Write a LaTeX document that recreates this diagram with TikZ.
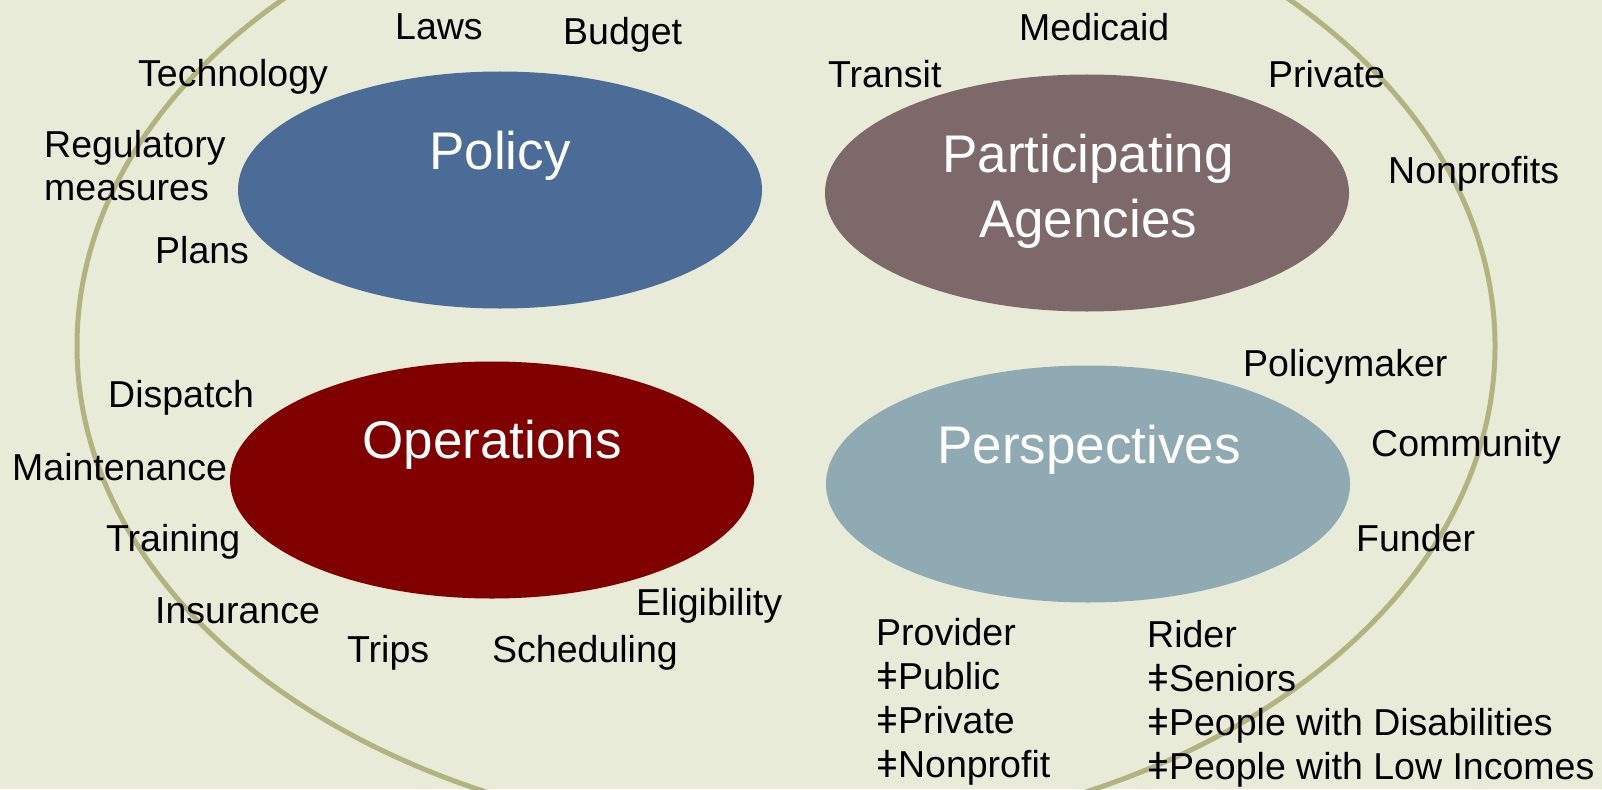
\documentclass[tikz,border=0pt]{standalone}
\usepackage{fontspec}
\setmainfont{Liberation Sans}
\usetikzlibrary{shapes.geometric}
\definecolor{bgc}{RGB}{232,235,216}
\definecolor{ringc}{RGB}{176,180,126}
\definecolor{polc}{RGB}{74,108,151}
\definecolor{agec}{RGB}{125,104,106}
\definecolor{opec}{RGB}{128,0,0}
\definecolor{perc}{RGB}{143,170,178}
\begin{document}
\begin{tikzpicture}[x=1pt,y=-1pt,
  blob/.style={ellipse,draw=none,inner sep=0pt,minimum width=524pt,minimum height=237pt},
  lbl/.style={anchor=base west,inner sep=0pt,font=\fontsize{37.5}{44}\selectfont},
  big/.style={anchor=base,inner sep=0pt,text=white,font=\fontsize{53}{63}\selectfont}]
\useasboundingbox (0,0) rectangle (1602,789);
\fill[bgc] (0,0) rectangle (1602,789);
\draw[ringc,line width=5pt] (786,346) ellipse [x radius=709pt, y radius=492pt];
\node[blob,fill=polc] (pol) at (500,190) {};
\node[blob,fill=agec] (age) at (1087,193) {};
\node[blob,fill=opec] (ope) at (492,480) {};
\node[blob,fill=perc] (per) at (1088,484) {};
\node[big] (tpol) at (500,169) {Policy};
\node[big] (tage1) at (1088,172) {Participating};
\node[big] (tage2) at (1088,237) {Agencies};
\node[big] (tope) at (492,458) {Operations};
\node[big] (tper) at (1089,463) {Perspectives};
% policy
\node[lbl] (laws) at (395,40) {Laws};
\node[lbl] (budget) at (563,45) {Budget};
\node[lbl] (tech) at (138,87) {Technology};
\node[lbl] (reg) at (44,157) {Regulatory};
\node[lbl] (meas) at (44,200) {measures};
\node[lbl] (plans) at (155,263) {Plans};
% agencies
\node[lbl] (medicaid) at (1019,41) {Medicaid};
\node[lbl] (transit) at (828,88) {Transit};
\node[lbl] (private) at (1268,88) {Private};
\node[lbl] (nonprofits) at (1388,183) {Nonprofits};
% perspectives
\node[lbl] (policymaker) at (1243,376) {Policymaker};
\node[lbl] (community) at (1371,456) {Community};
\node[lbl] (funder) at (1356,551) {Funder};
% operations
\node[lbl] (dispatch) at (108,407) {Dispatch};
\node[lbl] (maint) at (12,480) {Maintenance};
\node[lbl] (training) at (106,551) {Training};
\node[lbl] (insurance) at (155,623) {Insurance};
\node[lbl] (trips) at (347,662) {Trips};
\node[lbl] (sched) at (492,662) {Scheduling};
\node[lbl] (elig) at (636,615) {Eligibility};
% lists
\node[lbl] (prov) at (876,645) {Provider};
\node[lbl] (prov1) at (876,689) {ǂPublic};
\node[lbl] (prov2) at (876,733) {ǂPrivate};
\node[lbl] (prov3) at (876,777) {ǂNonprofit};
\node[lbl] (rider) at (1147,647) {Rider};
\node[lbl] (rider1) at (1147,691) {ǂSeniors};
\node[lbl] (rider2) at (1147,735) {ǂPeople with Disabilities};
\node[lbl] (rider3) at (1147,779) {ǂPeople with Low Incomes};
\end{tikzpicture}
\end{document}
